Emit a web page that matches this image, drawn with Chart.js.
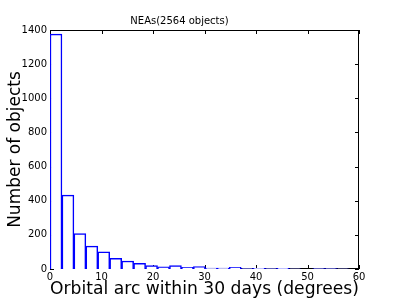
<!DOCTYPE html>
<html>
<head>
<meta charset="utf-8">
<script src="https://cdn.jsdelivr.net/npm/chart.js@4"></script>
<style>
  html, body { margin: 0; padding: 0; background: #fff; }
  #wrap { width: 400px; height: 300px; }
</style>
</head>
<body>
<div id="wrap"><canvas id="hist-chart"></canvas></div>
<script>
// histogram of orbital arc, 25 bins over 0..58 deg
const binStart = 0;
const binWidth = 2.32;
const counts = [1376, 433, 207, 134, 101, 62, 47, 33, 20, 12, 20, 10, 14, 6, 6, 10, 2, 4, 2, 4, 1, 0, 3, 3, 1];
const xTicks = [0, 10, 20, 30, 40, 50, 60];
const yTicks = [0, 200, 400, 600, 800, 1000, 1200, 1400];

// one bar per bin, placed at the bin centre on a linear x axis
var bins = counts.map(function (c, i) {
  return {x: binStart + (i + 0.5) * binWidth, y: c};
});

// matplotlib style frame + inward ticks (drawn under the bars)
const framePlugin = {
  id: 'frame',
  beforeDatasetsDraw(chart) {
    const c = chart.ctx, a = chart.chartArea;
    const xs = chart.scales.x, ys = chart.scales.y;
    c.save();
    c.strokeStyle = '#000';
    c.lineWidth = 1;
    c.strokeRect(a.left + 0.5, a.top + 0.5, a.right - a.left - 1, a.bottom - a.top - 1);
    c.beginPath();
    xTicks.forEach(function (v) {
      var px = Math.round(xs.getPixelForValue(v)) + 0.5;
      c.moveTo(px, a.bottom); c.lineTo(px, a.bottom - 4);
      c.moveTo(px, a.top); c.lineTo(px, a.top + 4);
    });
    yTicks.forEach(function (v) {
      var py = Math.round(ys.getPixelForValue(v)) + 0.5;
      c.moveTo(a.left, py); c.lineTo(a.left + 4, py);
      c.moveTo(a.right, py); c.lineTo(a.right - 4, py);
    });
    c.stroke();
    c.restore();
  }
};

var ctx = document.getElementById('hist-chart').getContext('2d');
const config = {
  type: 'bar',
  data: {
    datasets: [{
      data: bins,
      backgroundColor: '#fff',
      borderColor: 'rgb(0, 0, 255)',
      borderWidth: 1.5,
      borderSkipped: 'start',
      barPercentage: 1,
      categoryPercentage: 1
    }]
  },
  options: {
    responsive: true,
    maintainAspectRatio: false,
    animation: false,
    layout: { padding: { left: 0, right: 41, top: 0, bottom: 0 } },
    plugins: {
      legend: { display: false },
      tooltip: { enabled: false },
      title: {
        display: true,
        text: 'NEAs(2564 objects)',
        color: '#000',
        font: { family: 'DejaVu Sans', size: 10, weight: 'normal' },
        padding: { top: 15, bottom: 3 }
      }
    },
    scales: {
      x: {
        type: 'linear',
        offset: false,
        min: 0,
        max: 60,
        afterBuildTicks: function (s) { s.ticks = xTicks.map(function (v) { return {value: v}; }); },
        grid: { display: false, drawTicks: false, offset: false },
        border: { display: false },
        ticks: { color: '#000', font: { family: 'DejaVu Sans', size: 10 }, padding: 2, maxRotation: 0 },
        title: {
          display: true,
          text: 'Orbital arc within 30 days (degrees)',
          color: '#000',
          font: { family: 'DejaVu Sans', size: 18 },
          padding: { top: 0, bottom: 0 }
        },
        afterFit: function (s) { s.height = 31; }
      },
      y: {
        min: 0,
        max: 1400,
        afterBuildTicks: function (s) { s.ticks = yTicks.map(function (v) { return {value: v}; }); },
        grid: { display: false, drawTicks: false },
        border: { display: false },
        ticks: {
          color: '#000',
          font: { family: 'DejaVu Sans', size: 10 },
          padding: 3,
          callback: function (v) { return String(v); }
        },
        title: {
          display: true,
          text: 'Number of objects',
          color: '#000',
          font: { family: 'DejaVu Sans', size: 17 },
          padding: { top: 5, bottom: 0 }
        },
        afterFit: function (s) { s.width = 50; }
      }
    }
  },
  plugins: [framePlugin]
};
var myChart = new Chart(ctx, config);
</script>
</body>
</html>
